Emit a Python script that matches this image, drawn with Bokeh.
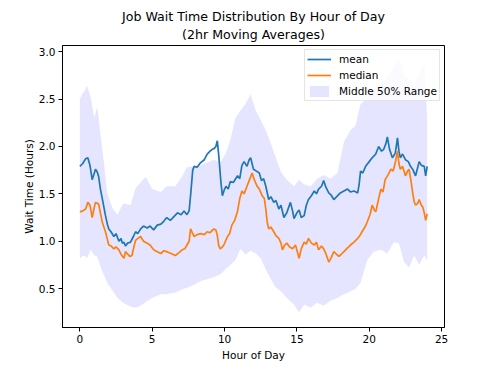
from bokeh.plotting import figure
from bokeh.models import FixedTicker, Title, Legend, LegendItem, PrintfTickFormatter, Range1d
from bokeh.embed import file_html
from bokeh.resources import INLINE

# ---- data ----
band_hours = [0, 0.15, 0.3, 0.5, 0.75, 1.0, 1.2, 1.45, 1.65, 1.9, 2.25, 2.6, 3.0, 3.5, 3.85, 4.2,
              4.55, 5.0, 5.6, 6.0, 6.6, 7.05, 7.4, 7.9, 8.35, 8.8, 9.25, 9.7, 10.1, 10.4, 10.75,
              11.1, 11.45, 11.8, 12.15, 12.5, 12.85, 13.2, 13.5, 13.9, 14.3, 14.8, 15.15, 15.5,
              15.95, 16.4, 16.85, 17.3, 17.8, 18.25, 18.7, 19.05, 19.4, 19.85, 20.3, 20.8, 21.25,
              21.7, 22.05, 22.4, 22.75, 23.1, 23.45, 23.8, 24.0]
band_upper = [2.50, 2.55, 2.58, 2.64, 2.52, 2.30, 2.42, 2.10, 1.85, 1.50, 1.35, 1.28, 1.40, 1.38,
              1.56, 1.62, 1.68, 1.55, 1.52, 1.58, 1.58, 1.68, 1.78, 1.79, 1.80, 1.83, 1.86, 1.83,
              1.93, 2.07, 2.30, 2.38, 2.45, 2.55, 2.38, 2.28, 2.17, 2.03, 1.90, 1.73, 1.65, 1.58,
              1.65, 1.60, 1.58, 1.66, 1.70, 1.66, 1.72, 2.05, 2.17, 2.22, 2.45, 2.50, 2.60, 2.66,
              2.72, 2.85, 2.92, 2.75, 2.70, 2.62, 2.78, 2.88, 2.30]
band_lower = [0.82, 0.84, 0.85, 0.82, 0.91, 0.85, 0.84, 0.72, 0.65, 0.56, 0.48, 0.40, 0.35, 0.31,
              0.30, 0.32, 0.36, 0.40, 0.44, 0.44, 0.46, 0.49, 0.51, 0.54, 0.58, 0.60, 0.62, 0.65,
              0.71, 0.75, 0.80, 0.92, 0.86, 0.90, 0.87, 0.82, 0.70, 0.60, 0.52, 0.47, 0.40, 0.33,
              0.25, 0.33, 0.30, 0.35, 0.32, 0.37, 0.40, 0.44, 0.47, 0.50, 0.56, 0.80, 0.89, 0.91,
              0.87, 0.99, 0.98, 0.78, 0.72, 0.85, 0.75, 0.85, 0.80]

mean_hours = [0, 0.2, 0.4, 0.55, 0.7, 0.85, 1.0, 1.08, 1.2, 1.3, 1.42, 1.55, 1.66, 1.77, 1.9, 2.0,
              2.15, 2.35, 2.5, 2.7, 2.85, 2.93, 3.05, 3.15, 3.3, 3.5, 3.7, 3.85, 4.0, 4.2, 4.4, 4.65,
              4.85, 5.1, 5.35, 5.6, 5.8, 6.0, 6.25, 6.5, 6.75, 7.0, 7.2, 7.4, 7.55, 7.65, 7.8, 7.9,
              8.1, 8.35, 8.6, 8.8, 9.0, 9.15, 9.3, 9.4, 9.5, 9.6, 9.75, 9.85, 10.0, 10.1, 10.25,
              10.4, 10.6, 10.9, 11.05, 11.2, 11.35, 11.55, 11.7, 11.8, 11.9, 12.0, 12.2, 12.4, 12.55,
              12.7, 12.85, 13.05, 13.2, 13.4, 13.55, 13.75, 13.9, 14.1, 14.3, 14.55, 14.7, 14.8,
              15.0, 15.15, 15.3, 15.5, 15.65, 15.8, 16.0, 16.2, 16.35, 16.5, 16.7, 16.85, 17.0,
              17.2, 17.35, 17.55, 17.75, 18.0, 18.25, 18.5, 18.7, 18.95, 19.2, 19.3, 19.4, 19.55,
              19.75, 20.0, 20.2, 20.45, 20.65, 20.85, 21.0, 21.15, 21.25, 21.4, 21.6, 21.8, 21.95,
              22.05, 22.15, 22.3, 22.5, 22.7, 22.85, 23.0, 23.2, 23.35, 23.45, 23.6, 23.8, 23.9, 24.0]
mean_vals = [1.79, 1.82, 1.87, 1.88, 1.80, 1.65, 1.72, 1.76, 1.73, 1.68, 1.55, 1.45, 1.36, 1.27,
             1.18, 1.13, 1.10, 1.05, 1.08, 1.00, 1.03, 0.98, 0.99, 0.95, 0.98, 0.99, 1.05, 1.10,
             1.08, 1.13, 1.16, 1.14, 1.16, 1.12, 1.17, 1.18, 1.21, 1.25, 1.22, 1.26, 1.30, 1.28,
             1.32, 1.28, 1.32, 1.48, 1.75, 1.79, 1.78, 1.83, 1.86, 1.92, 1.95, 1.97, 1.98, 2.00,
             2.06, 1.90, 1.62, 1.48, 1.55, 1.58, 1.55, 1.63, 1.62, 1.69, 1.66, 1.80, 1.84, 1.79,
             1.86, 1.88, 1.82, 1.76, 1.74, 1.72, 1.64, 1.66, 1.58, 1.44, 1.47, 1.41, 1.43, 1.34,
             1.38, 1.25, 1.30, 1.41, 1.32, 1.24, 1.30, 1.33, 1.25, 1.27, 1.38, 1.44, 1.48, 1.53,
             1.50, 1.55, 1.58, 1.64, 1.57, 1.51, 1.49, 1.44, 1.47, 1.51, 1.53, 1.55, 1.52, 1.53,
             1.51, 1.60, 1.74, 1.72, 1.79, 1.84, 1.88, 1.92, 2.00, 1.95, 1.97, 2.03, 2.10, 1.97,
             1.88, 1.93, 2.09, 1.95, 1.88, 1.92, 1.86, 1.84, 1.79, 1.76, 1.69, 1.78, 1.84, 1.80,
             1.79, 1.69, 1.79]

median_hours = [0, 0.2, 0.4, 0.55, 0.7, 0.85, 1.0, 1.08, 1.2, 1.3, 1.42, 1.55, 1.66, 1.77, 1.9,
                2.0, 2.15, 2.35, 2.5, 2.7, 2.85, 3.05, 3.15, 3.27, 3.45, 3.6, 3.75, 3.85, 4.0, 4.2,
                4.4, 4.65, 4.85, 5.1, 5.35, 5.6, 5.8, 6.0, 6.3, 6.6, 6.85, 7.07, 7.25, 7.4, 7.55,
                7.65, 7.8, 7.9, 8.1, 8.35, 8.6, 8.8, 9.0, 9.25, 9.4, 9.5, 9.6, 9.7, 9.85, 9.95,
                10.2, 10.35, 10.5, 10.7, 10.9, 11.05, 11.2, 11.35, 11.55, 11.7, 11.9, 12.05, 12.25,
                12.4, 12.6, 12.75, 12.85, 12.95, 13.05, 13.2, 13.4, 13.55, 13.75, 13.9, 14.0, 14.15,
                14.3, 14.5, 14.7, 14.9, 15.15, 15.3, 15.5, 15.65, 15.8, 16.0, 16.2, 16.35, 16.5,
                16.7, 16.85, 17.0, 17.2, 17.35, 17.55, 17.75, 17.9, 18.05, 18.25, 18.5, 18.7, 18.95,
                19.2, 19.35, 19.5, 19.7, 19.85, 20.05, 20.2, 20.35, 20.45, 20.65, 20.8, 20.95, 21.1,
                21.3, 21.5, 21.65, 21.8, 21.95, 22.05, 22.15, 22.3, 22.5, 22.65, 22.75, 22.9, 23.0,
                23.1, 23.2, 23.35, 23.45, 23.6, 23.7, 23.8, 23.9, 24.0]
median_vals = [1.31, 1.32, 1.34, 1.41, 1.38, 1.25, 1.36, 1.41, 1.40, 1.39, 1.30, 1.20, 1.15, 1.10,
               1.02, 0.96, 0.95, 0.92, 0.94, 0.91, 0.86, 0.82, 0.89, 0.87, 0.84, 0.85, 0.95, 1.01,
               1.03, 1.05, 1.00, 0.98, 0.96, 0.91, 0.89, 0.87, 0.90, 0.89, 0.87, 0.85, 0.88, 0.91,
               0.92, 0.96, 1.00, 1.13, 1.08, 1.05, 1.07, 1.08, 1.07, 1.10, 1.09, 1.13, 1.12, 1.06,
               0.95, 0.92, 0.94, 0.96, 1.05, 1.08, 1.17, 1.22, 1.32, 1.45, 1.53, 1.50, 1.58, 1.64,
               1.72, 1.65, 1.58, 1.55, 1.48, 1.45, 1.34, 1.20, 1.13, 1.15, 1.10, 1.06, 1.03, 0.98,
               0.91, 0.96, 0.98, 0.94, 0.92, 0.96, 0.82, 0.92, 0.99, 0.97, 1.03, 0.98, 0.96, 0.99,
               0.91, 0.95, 0.92, 0.87, 0.78, 0.82, 0.89, 0.86, 0.84, 0.86, 0.89, 0.93, 0.96, 0.99,
               1.03, 1.06, 1.10, 1.15, 1.20, 1.28, 1.38, 1.33, 1.31, 1.45, 1.55, 1.52, 1.65, 1.70,
               1.76, 1.74, 1.83, 1.95, 1.82, 1.76, 1.79, 1.69, 1.74, 1.76, 1.62, 1.51, 1.42, 1.38,
               1.40, 1.44, 1.38, 1.36, 1.30, 1.22, 1.29]

x_ticks = [0, 5, 10, 15, 20, 25]
y_ticks = [0.5, 1.0, 1.5, 2.0, 2.5, 3.0]

FONT = "DejaVu Sans"

p = figure(width=478, height=363, output_backend="svg", toolbar_location=None,
           x_range=Range1d(-1.2, 25.2), y_range=Range1d(0.09, 3.065),
           min_border_left=62, min_border_right=34, min_border_top=45, min_border_bottom=34,
           background_fill_color="white", border_fill_color="white")
p.title = None
p.outline_line_color = "black"
p.outline_line_width = 1
p.grid.visible = False

band = p.varea(x=band_hours, y1=band_lower, y2=band_upper, fill_color="blue", fill_alpha=0.1)
l_mean = p.line(mean_hours, mean_vals, line_color="#1f77b4", line_width=1.7)
l_med = p.line(median_hours, median_vals, line_color="#ff7f0e", line_width=1.7)

for ax in (p.xaxis[0], p.yaxis[0]):
    ax.axis_line_color = "black"
    ax.major_tick_line_color = "black"
    ax.minor_tick_line_color = None
    ax.major_tick_out = 4
    ax.major_tick_in = 0
    ax.major_label_standoff = 3
    ax.major_label_text_font = FONT
    ax.major_label_text_font_size = "10.5px"
    ax.major_label_text_color = "black"
    ax.axis_label_text_font = FONT
    ax.axis_label_text_font_size = "10.5px"
    ax.axis_label_text_font_style = "normal"
    ax.axis_label_text_color = "black"
    ax.axis_label_standoff = 1

p.xaxis[0].ticker = FixedTicker(ticks=x_ticks)
p.yaxis[0].ticker = FixedTicker(ticks=y_ticks)
p.yaxis[0].formatter = PrintfTickFormatter(format="%.1f")
p.xaxis[0].axis_label = "Hour of Day"
p.yaxis[0].axis_label = "Wait Time (Hours)"
p.xaxis[0].axis_label_standoff = 3

p.add_layout(Title(text="(2hr Moving Averages)", align="center", text_font=FONT,
                   text_font_size="12.6px", text_font_style="normal", text_color="black",
                   standoff=8), "above")
p.add_layout(Title(text="Job Wait Time Distribution By Hour of Day", align="center", text_font=FONT,
                   text_font_size="12.6px", text_font_style="normal", text_color="black",
                   standoff=-7), "above")

legend = Legend(items=[LegendItem(label="mean", renderers=[l_mean]),
                       LegendItem(label="median", renderers=[l_med]),
                       LegendItem(label="Middle 50% Range", renderers=[band])],
                location="top_right", margin=4, padding=2, spacing=2,
                label_height=14, glyph_height=14, glyph_width=24, label_standoff=8,
                label_text_font=FONT, label_text_font_size="10.5px", label_text_color="black",
                border_line_color="#cccccc", border_line_width=1,
                background_fill_color="white", background_fill_alpha=0.8)
p.add_layout(legend)

open("out.html", "w").write(file_html(p, INLINE))
